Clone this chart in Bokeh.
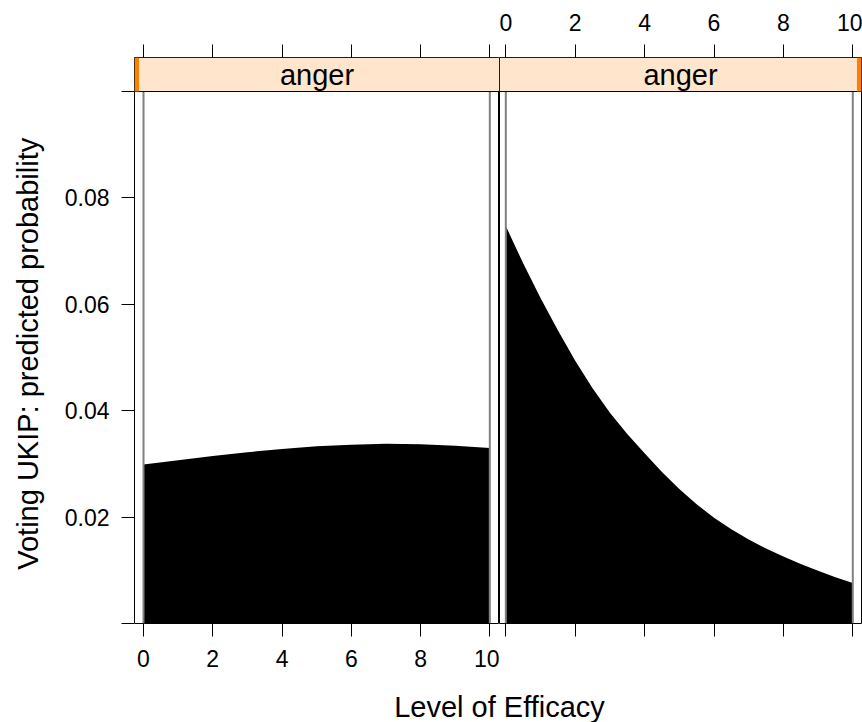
import math
from bokeh.plotting import figure
from bokeh.models import Range1d, FixedTicker, LinearAxis, CustomJSTickFormatter, PrintfTickFormatter
from bokeh.layouts import row, column
from bokeh.embed import file_html
from bokeh.resources import INLINE
from bokeh.core.properties import value

# ---- data ----
efficacy_left = [0, 1, 2, 3, 4, 5, 6, 7, 8, 9, 10]
prob_left = [0.0299, 0.0307, 0.0315, 0.0322, 0.0328, 0.0333, 0.0336, 0.0338, 0.0337, 0.0334, 0.0330]
efficacy_right = [0, 0.5, 1, 1.5, 2, 2.5, 3, 3.5, 4, 4.5, 5, 5.5, 6, 6.5, 7, 7.5, 8, 8.5, 9, 9.5, 10]
prob_right = [0.0747, 0.0677, 0.0612, 0.0551, 0.0494, 0.0442, 0.0396, 0.0356, 0.0320, 0.0285, 0.0253,
              0.0224, 0.0199, 0.0177, 0.0158, 0.0141, 0.0126, 0.0112, 0.0099, 0.0087, 0.0076]
panel_labels = ["anger", "anger"]
x_ticks = [0, 2, 4, 6, 8, 10]
y_ticks = [0.02, 0.04, 0.06, 0.08]
y_limits = [0.0, 0.1]
x_label = "Level of Efficacy"
y_label = "Voting UKIP: predicted probability"

# ---- style / layout ----
FONT = "Liberation Sans"
TICK_FS = "23px"
LAB_FS = "29px"
H = 682
MB_TOP = 57
MB_BOTTOM = 59
STRIP_PX = 34
YLAB_W = 60
PANEL_LEFT = 134
frame_h = H - MB_TOP - MB_BOTTOM
y_end = y_limits[1] + (y_limits[1] - y_limits[0]) * STRIP_PX / (frame_h - STRIP_PX)
blank = CustomJSTickFormatter(code="return ''")


def style_axis(ax):
    ax.major_tick_out = 13
    ax.major_tick_in = 0
    ax.minor_tick_out = 0
    ax.minor_tick_in = 0
    ax.axis_line_color = None
    ax.major_tick_line_color = "black"
    ax.major_label_text_font = FONT
    ax.major_label_text_font_size = TICK_FS
    ax.major_label_text_color = "black"


def make_panel(width, xr, mb_left, mb_right, label, xs, prob, bottom_lab, top_lab, left_axis, ind_left):
    p = figure(width=width, height=H, x_range=Range1d(*xr), y_range=Range1d(y_limits[0], y_end),
               x_axis_type=None, y_axis_type=None, toolbar_location=None, output_backend="svg",
               min_border_left=mb_left, min_border_right=mb_right,
               min_border_top=MB_TOP, min_border_bottom=MB_BOTTOM)
    p.outline_line_color = "black"
    p.outline_line_width = 1
    p.background_fill_color = "white"
    p.border_fill_color = "white"

    # filled predicted probability
    p.varea(x=xs, y1=[y_limits[0]] * len(xs), y2=prob, fill_color="black")
    # grey vertical lines at the ends of the data range
    p.segment(x0=[xs[0], xs[-1]], y0=y_limits[0], x1=[xs[0], xs[-1]], y1=y_limits[1],
              line_color="#808080", line_width=2)

    # strip
    p.quad(left=xr[0], right=xr[1], bottom=y_limits[1], top=y_end,
           fill_color="#FFE5CC", line_color="black", line_width=1)
    w = 0.13
    if ind_left:
        p.quad(left=xr[0], right=xr[0] + w, bottom=y_limits[1], top=y_end, fill_color="#FF7F00", line_color=None)
    else:
        p.quad(left=xr[1] - w, right=xr[1], bottom=y_limits[1], top=y_end, fill_color="#FF7F00", line_color=None)
    p.text(x=[(xr[0] + xr[1]) / 2], y=[(y_limits[1] + y_end) / 2], text=[label],
           text_align="center", text_baseline="middle", text_font=value(FONT),
           text_font_size=LAB_FS, text_color="black")

    bax = LinearAxis(ticker=FixedTicker(ticks=x_ticks))
    style_axis(bax)
    bax.major_label_standoff = 13
    if not bottom_lab:
        bax.formatter = blank
    p.add_layout(bax, "below")

    tax = LinearAxis(ticker=FixedTicker(ticks=x_ticks))
    style_axis(tax)
    tax.major_label_standoff = 14
    if not top_lab:
        tax.formatter = blank
    p.add_layout(tax, "above")

    if left_axis:
        yax = LinearAxis(ticker=FixedTicker(ticks=[y_limits[0]] + y_ticks + [y_limits[1]]),
                         formatter=PrintfTickFormatter(format="%.2f"))
        style_axis(yax)
        yax.major_label_overrides = {y_limits[0]: "", y_limits[1]: ""}
        yax.major_label_standoff = 12
        p.add_layout(yax, "left")
    return p


pL = make_panel(499 - YLAB_W, (-0.26, 10.28), PANEL_LEFT - YLAB_W, 0, panel_labels[0],
                efficacy_left, prob_left, True, False, True, True)
pR = make_panel(363, (-0.182, 10.251), 0, 1, panel_labels[1], efficacy_right, prob_right,
                False, True, False, False)

# y-axis title, centred on the panel area
pY = figure(width=YLAB_W, height=H, x_range=Range1d(0, YLAB_W), y_range=Range1d(0, H),
            x_axis_type=None, y_axis_type=None, toolbar_location=None, output_backend="svg",
            min_border=0, outline_line_color=None)
panel_mid = MB_BOTTOM + (frame_h - STRIP_PX) / 2
pY.text(x=[27], y=[panel_mid], text=[y_label], angle=math.pi / 2, text_align="center",
        text_baseline="middle", text_font=value(FONT), text_font_size=LAB_FS, text_color="black")

# x-axis title, centred across both panels
XH = 722 - H
pX = figure(width=862, height=XH, x_range=Range1d(0, 862), y_range=Range1d(0, XH),
            x_axis_type=None, y_axis_type=None, toolbar_location=None, output_backend="svg",
            min_border=0, outline_line_color=None)
pX.text(x=[499], y=[16], text=[x_label], text_align="center", text_baseline="middle",
        text_font=value(FONT), text_font_size=LAB_FS, text_color="black")

layout = column(row(pY, pL, pR), pX)
open("out.html", "w").write(file_html(layout, INLINE))
